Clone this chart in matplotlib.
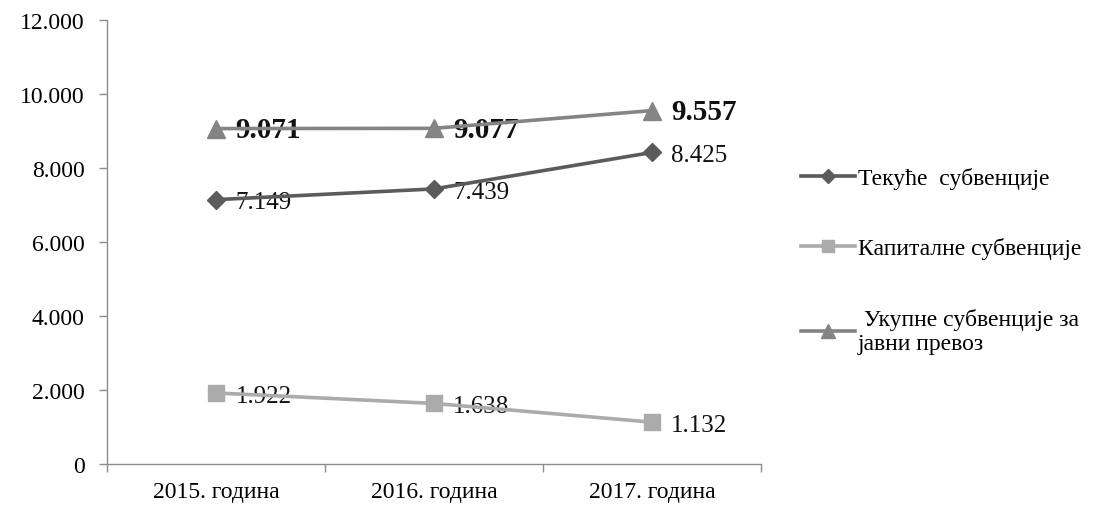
import matplotlib.pyplot as plt
from matplotlib.lines import Line2D

plt.rcParams['font.family'] = ['Liberation Serif', 'DejaVu Serif']

categories = ['2015. година', '2016. година', '2017. година']
tekuce = [7149, 7439, 8425]
kapitalne = [1922, 1638, 1132]
ukupne = [9071, 9077, 9557]
names = ['Текуће  субвенције', 'Капиталне субвенције', ' Укупне субвенције за\nјавни превоз']


def fmt(v):
    return '{:,}'.format(v).replace(',', '.')


fig = plt.figure(figsize=(11.14, 5.06), dpi=100)
ax = fig.add_axes([0.096, 0.081, 0.587, 0.877])

x = list(range(len(categories)))
ax.plot(x, tekuce, color='#5b5b5b', lw=2.6, marker='D', ms=9, zorder=3)
ax.plot(x, kapitalne, color='#ababab', lw=2.6, marker='s', ms=12, zorder=3)
ax.plot(x, ukupne, color='#848484', lw=2.6, marker='^', ms=13, zorder=3)

for i, v in enumerate(tekuce):
    ax.annotate(fmt(v), (i, v), xytext=(14, -2), textcoords='offset points',
                va='center', ha='left', fontsize=18, color='#111111', zorder=2)
for i, v in enumerate(kapitalne):
    ax.annotate(fmt(v), (i, v), xytext=(14, -2), textcoords='offset points',
                va='center', ha='left', fontsize=18, color='#111111', zorder=2)
for i, v in enumerate(ukupne):
    ax.annotate(fmt(v), (i, v), xytext=(14, -1), textcoords='offset points',
                va='center', ha='left', fontsize=21, fontweight='bold',
                color='#111111', zorder=2)

ax.set_xlim(-0.5, 2.5)
ax.set_ylim(0, 12000)
ax.set_yticks(range(0, 12001, 2000))
ax.set_yticklabels([fmt(v) for v in range(0, 12001, 2000)])
ax.set_xticks(x)
ax.set_xticklabels(categories)
ax.set_xticks([-0.5, 0.5, 1.5, 2.5], minor=True)
ax.tick_params(axis='x', which='major', length=0, pad=12, labelsize=17)
ax.tick_params(axis='x', which='minor', length=6, color='#8c8c8c', width=1)
ax.tick_params(axis='y', length=6, color='#8c8c8c', width=1, labelsize=17, pad=10)
for s in ['top', 'right']:
    ax.spines[s].set_visible(False)
for s in ['left', 'bottom']:
    ax.spines[s].set_color('#8c8c8c')
    ax.spines[s].set_linewidth(1)

handles = [
    Line2D([], [], color='#5b5b5b', lw=2.6, marker='D', ms=7),
    Line2D([], [], color='#ababab', lw=2.6, marker='s', ms=9),
    Line2D([], [], color='#848484', lw=2.6, marker='^', ms=10),
]
fig.legend(handles, names, loc='upper left', bbox_to_anchor=(0.7, 0.71),
           frameon=False, fontsize=17, handlelength=2.3, handletextpad=0.1,
           labelspacing=2.05)

fig.savefig('out.png', dpi=100)
